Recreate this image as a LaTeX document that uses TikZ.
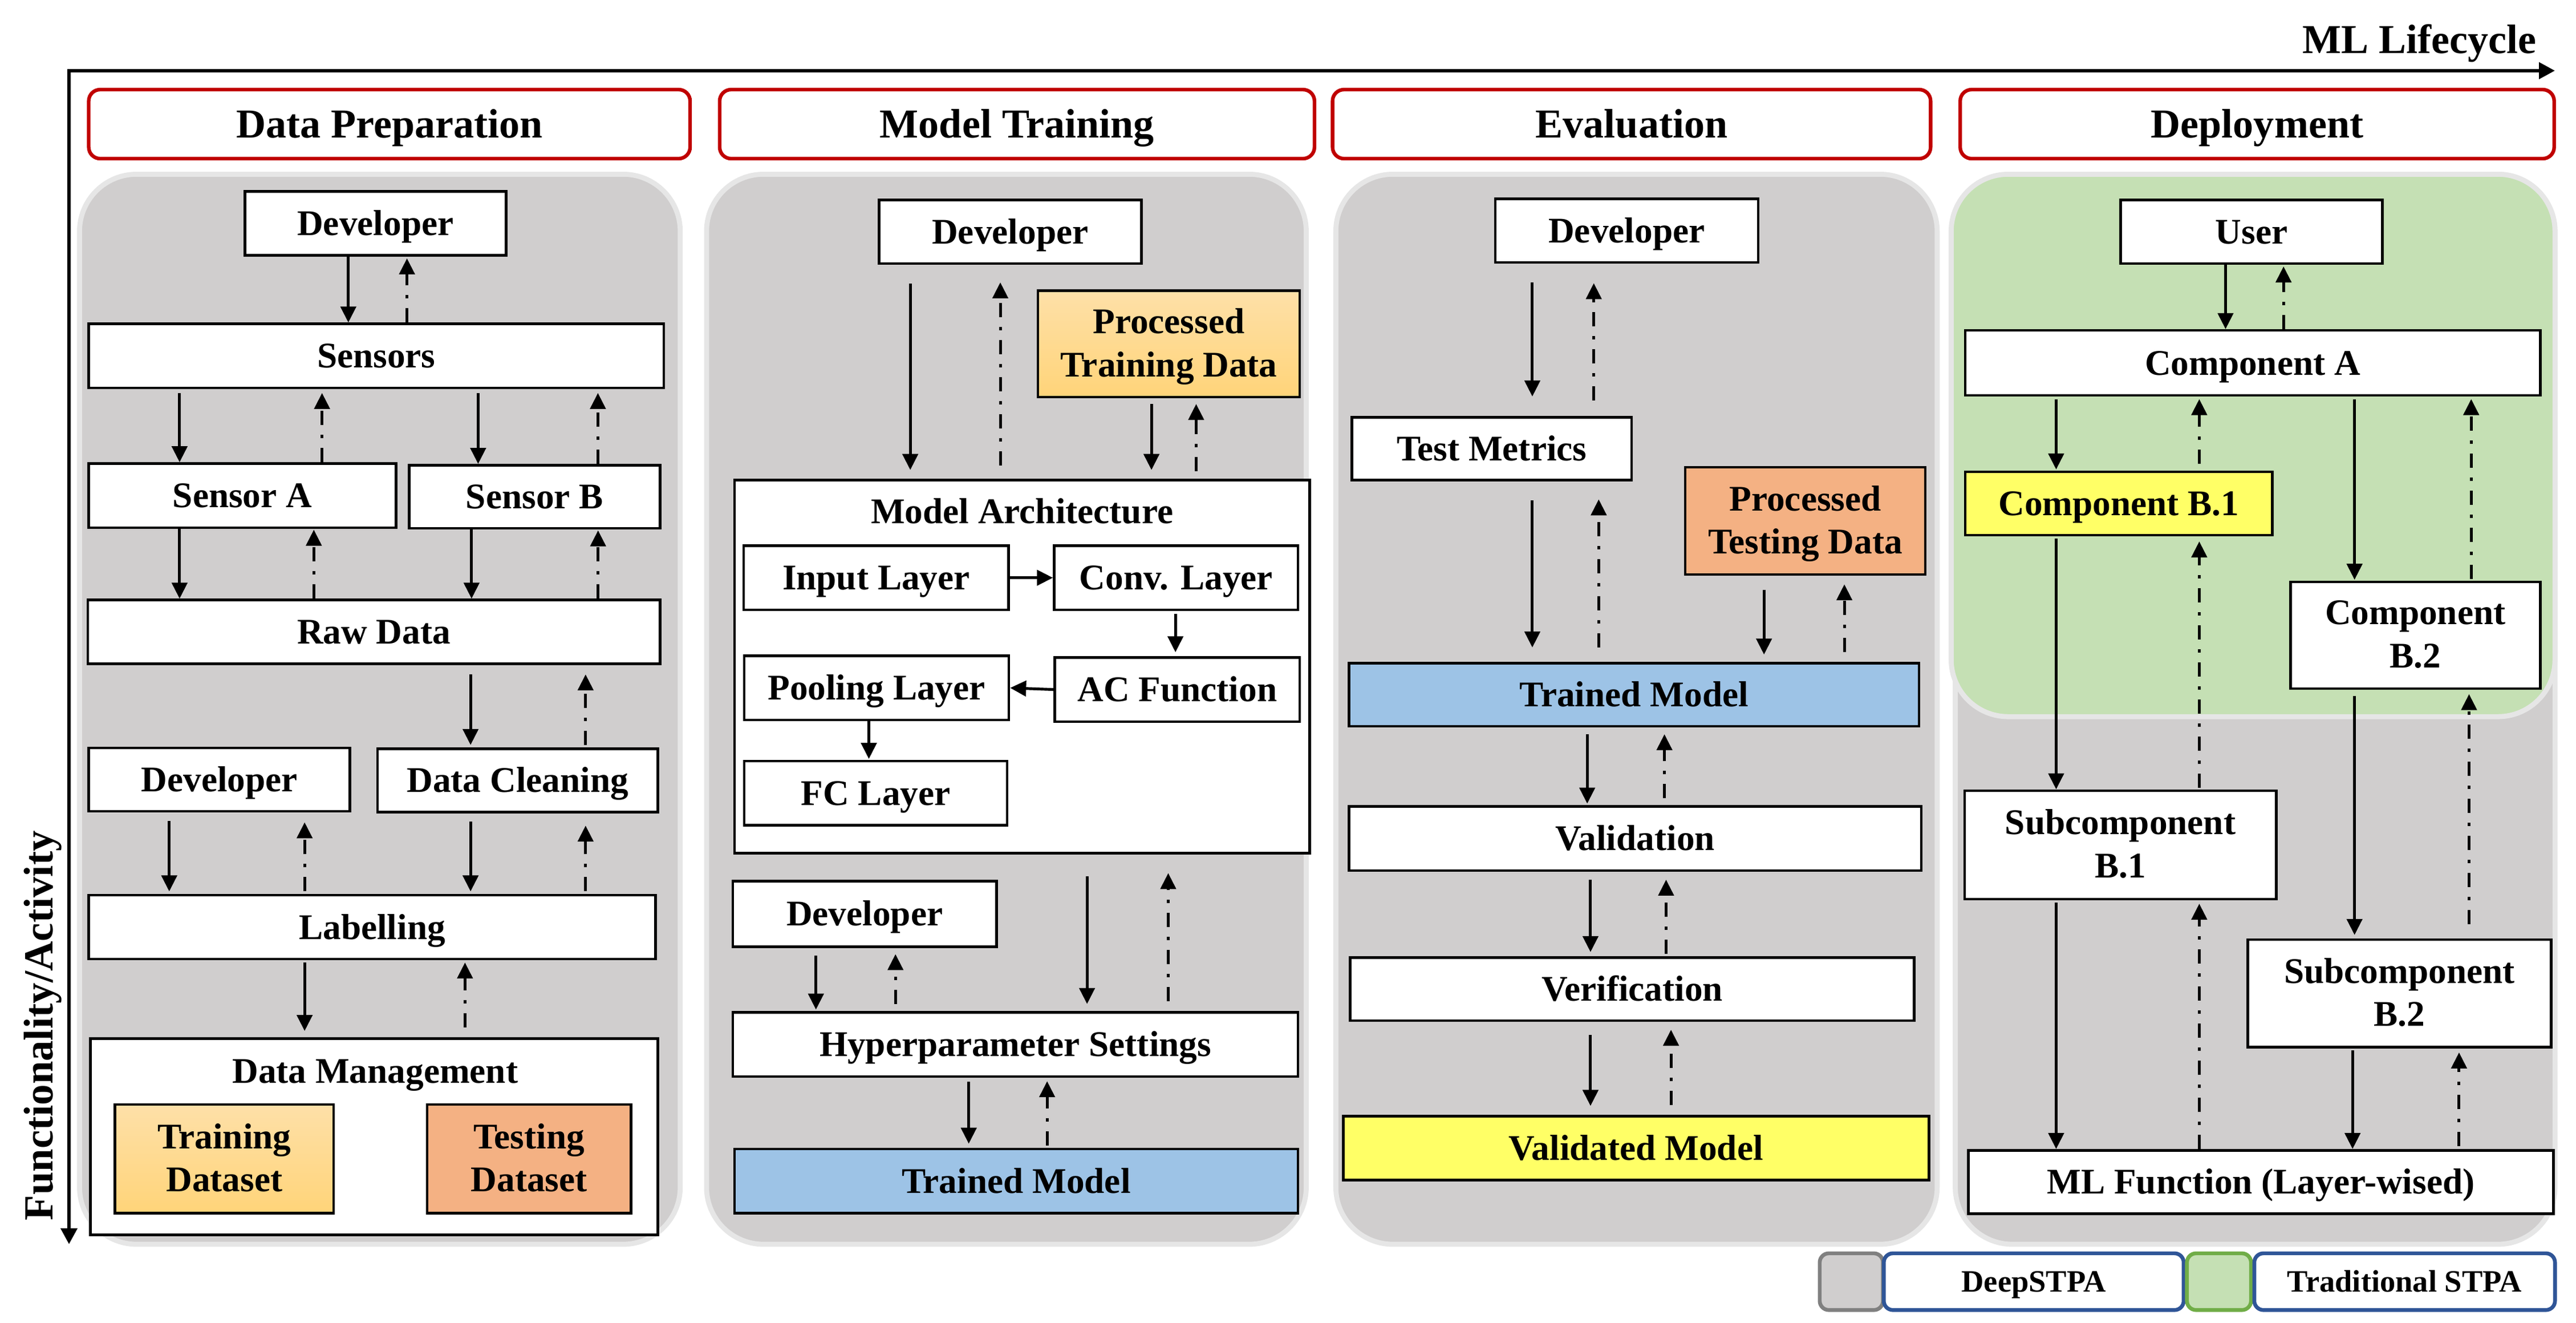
\documentclass[tikz,border=0pt]{standalone}
\usepackage{fontspec}
\setmainfont{Liberation Serif}
\usetikzlibrary{arrows.meta}

\definecolor{panelgray}{HTML}{D0CECE}
\definecolor{panelrim}{HTML}{E6E6E6}
\definecolor{greenfill}{HTML}{C5E0B4}
\definecolor{hdrred}{HTML}{C00000}
\definecolor{trainTop}{HTML}{FEE0A8}
\definecolor{trainBot}{HTML}{FFD479}
\definecolor{testfill}{HTML}{F4B183}
\definecolor{bluefill}{HTML}{9DC3E6}
\definecolor{yellowfill}{HTML}{FFFF66}
\definecolor{legblue}{HTML}{2F5597}
\definecolor{leggray}{HTML}{808080}
\definecolor{leggreen}{HTML}{70AD47}

\newcommand\pxu{0.2881mm}
% generic box: style, name, x1, y1, x2, y2, text
\newcommand\rbx[7]{\node[#1, minimum width={(#5-#3)*\pxu}, minimum height={(#6-#4)*\pxu}] (#2) at ({(#3+#5)/2},{(#4+#6)/2}) {#7};}
\newcommand\bx[7][sl]{\rbx{box,#1}{#2}{#3}{#4}{#5}{#6}{#7}}
% solid down connector: upper lower x startgap endgap
\newcommand\dn[5]{\draw[solidarr, shorten <=#4*\pxu, shorten >=#5*\pxu] (#1.south -| #3,0) -- (#2.north -| #3,0);}
% dash-dot up connector: upper lower x startgap endgap
\newcommand\upc[5]{\draw[dasharr, shorten <=#4*\pxu, shorten >=#5*\pxu] (#2.north -| #3,0) -- (#1.south -| #3,0);}

\begin{document}
\begin{tikzpicture}[x=0.2881mm,y=-0.2881mm,
  lbl/.style={font=\bfseries\fontsize{18}{21.5}\selectfont, align=center},
  box/.style={draw=black, line width=1.3pt, fill=white, inner sep=0pt, lbl},
  sl/.style={text height=11.9pt, text depth=0pt},
  ml/.style={text depth=1.2pt},
  hdr/.style={draw=hdrred, line width=1.8pt, fill=white, rounded corners=2mm, inner sep=0pt,
    font=\bfseries\fontsize{20.5}{24}\selectfont, text height=13.5pt, text depth=0pt},
  panel/.style={fill=panelgray, draw=panelrim, line width=2.5pt, rounded corners=10mm},
  solidarr/.style={-{Triangle[length=2.8mm,width=2.7mm]}, line width=1.4pt},
  dasharr/.style={-{Triangle[length=2.8mm,width=2.7mm]}, line width=1.4pt,
    dash pattern=on 2.5mm off 1.7mm on 0.6mm off 1.7mm},
  hconn/.style={-{Triangle[length=2.8mm,width=2.7mm]}, line width=1.4pt},
  axis/.style={{Triangle[length=2.8mm,width=2.8mm]}-{Triangle[length=2.8mm,width=2.8mm]}, line width=1.9pt},
  legbox/.style={line width=1.9pt, rounded corners=1.6mm, inner sep=0pt,
    font=\bfseries\fontsize{15.5}{18}\selectfont, text height=10.2pt, text depth=0pt}
]
\useasboundingbox (0,0) rectangle (1567.8,804.6);

% ---------- axes ----------
\coordinate (axB) at (42,757);
\coordinate (axO) at (42,43);
\coordinate (axR) at (1555,43);
\draw[axis] (axB) -- (axO) -- (axR);
\node[anchor=base east, font=\bfseries\fontsize{20.5}{24}\selectfont] (mlc) at (1548,32.4) {ML Lifecycle};
\node[anchor=base, rotate=90, font=\bfseries\fontsize{20.7}{24}\selectfont] (fa) at (32,624) {Functionality/Activity};

% ---------- headers ----------
\rbx{hdr}{h1}{54}{54.5}{420}{96.5}{Data Preparation}
\rbx{hdr}{h2}{438}{54.5}{800}{96.5}{Model Training}
\rbx{hdr}{h3}{811}{54.5}{1175}{96.5}{Evaluation}
\rbx{hdr}{h4}{1193}{54.5}{1554.5}{96.5}{Deployment}

% ---------- panels ----------
\draw[panel] (48.4,106) rectangle (414,757);
\draw[panel] (430,106) rectangle (795,757);
\draw[panel] (813,106) rectangle (1179,757);
\draw[panel] (1190,106) rectangle (1555,757);
\draw[panel, fill=greenfill] (1187.5,106) rectangle (1555,436);

% ---------- column 1: Data Preparation ----------
\bx{dpDev}{149}{116.4}{308}{155.4}{Developer}
\bx{dpSens}{54}{197}{404}{236}{Sensors}
\bx{dpSA}{54}{282}{241}{321}{Sensor A}
\bx{dpSB}{249}{283}{401.7}{321.4}{Sensor B}
\bx{dpRaw}{53.4}{365}{401.7}{403.8}{Raw Data}
\bx{dpDevB}{54}{455}{213}{493.5}{Developer}
\bx{dpClean}{229.7}{455.5}{400.4}{494}{Data Cleaning}
\bx{dpLab}{54}{544.6}{399}{583.5}{Labelling}
\bx{dpMgmt}{55}{631.8}{400.4}{751.3}{}
\node[lbl, text height=11.9pt, text depth=0pt] (dpMgmtT) at (228.3,651.7) {Data Management};
\bx[ml, top color=trainTop, bottom color=trainBot]{dpTrain}{70}{672}{203}{738}{Training\\Dataset}
\bx[ml, fill=testfill]{dpTest}{260}{672}{384}{738}{Testing\\Dataset}

\dn{dpDev}{dpSens}{212}{0}{0}
\upc{dpDev}{dpSens}{247.7}{0}{1}
\dn{dpSens}{dpSA}{109.3}{2.5}{0}
\upc{dpSens}{dpSA}{196}{0}{2.3}
\dn{dpSens}{dpSB}{291}{2.5}{0}
\upc{dpSens}{dpSB}{363.9}{0}{2.3}
\dn{dpSA}{dpRaw}{109.3}{0}{0}
\upc{dpSA}{dpRaw}{191}{0}{0.5}
\dn{dpSB}{dpRaw}{287}{0}{0}
\upc{dpSB}{dpRaw}{364}{0}{0.5}
\dn{dpRaw}{dpClean}{286.4}{5.7}{1.5}
\upc{dpRaw}{dpClean}{356.4}{1.5}{5.7}
\dn{dpDevB}{dpLab}{103}{5}{1.5}
\upc{dpDevB}{dpLab}{185.4}{1.5}{6}
\dn{dpClean}{dpLab}{286.4}{5}{1.5}
\upc{dpClean}{dpLab}{356.4}{1.5}{7.5}
\dn{dpLab}{dpMgmt}{185.4}{1.3}{3.8}
\upc{dpLab}{dpMgmt}{283}{6}{1.3}

% ---------- column 2: Model Training ----------
\bx{mtDev}{535}{121.6}{694.6}{160.4}{Developer}
\bx[ml, top color=trainTop, bottom color=trainBot]{mtPTD}{631.7}{176.8}{791}{241.6}{Processed\\Training Data}
\bx{mtArch}{447}{292}{797}{519}{}
\node[lbl, text height=11.9pt, text depth=0pt] (mtArchT) at (622,311.3) {Model Architecture};
\bx{mtIn}{452.6}{332}{613.9}{371}{Input Layer}
\bx{mtConv}{641.6}{332}{790}{371}{Conv. Layer}
\bx{mtAC}{642}{400}{791}{439}{AC Function}
\bx{mtPool}{453}{399}{614}{438}{Pooling Layer}
\bx{mtFC}{453}{463}{613}{502}{FC Layer}
\bx{mtDevB}{446}{536}{606.5}{576}{Developer}
\bx{mtHyp}{446}{616}{790}{655}{Hyperparameter Settings}
\bx[sl, fill=bluefill]{mtTM}{447}{699}{790}{738}{Trained Model}

\dn{mtDev}{mtArch}{554}{11.4}{5.3}
\upc{mtDev}{mtArch}{608.8}{8}{10.6}
\dn{mtPTD}{mtArch}{700.8}{3.4}{5.3}
\upc{mtPTD}{mtArch}{728}{4.4}{3.4}
\draw[hconn] (mtIn.east) -- (mtConv.west);
\dn{mtConv}{mtAC}{715.4}{1.5}{2.4}
\draw[hconn] (mtAC.west) -- (mtPool.east);
\dn{mtPool}{mtFC}{528.8}{0}{0.5}
\dn{mtArch}{mtHyp}{661.6}{13.4}{4.4}
\upc{mtArch}{mtHyp}{711}{6}{11.4}
\dn{mtDevB}{mtHyp}{496.6}{4.7}{1}
\upc{mtDevB}{mtHyp}{545}{4.3}{3.7}
\dn{mtHyp}{mtTM}{589.6}{2.4}{2.4}
\upc{mtHyp}{mtTM}{637.3}{1.4}{2}

% ---------- column 3: Evaluation ----------
\bx{evDev}{910}{121}{1070}{159.6}{Developer}
\bx{evTM}{822.8}{253.8}{993}{292}{Test Metrics}
\bx[ml, fill=testfill]{evPTD}{1025.7}{284.3}{1171.8}{349.5}{Processed\\Testing Data}
\bx[sl, fill=bluefill]{evTr}{821}{403.4}{1168}{441.9}{Trained Model}
\bx{evVal}{821}{490.7}{1169.4}{529.6}{Validation}
\bx{evVer}{821.8}{582.5}{1165}{621}{Verification}
\bx[sl, fill=yellowfill]{evVM}{817.5}{679}{1174}{718}{Validated Model}

\dn{evDev}{evTM}{932.6}{11.4}{11.8}
\upc{evDev}{evTM}{970}{9.2}{11.9}
\dn{evTM}{evTr}{932.6}{11.7}{8.7}
\upc{evTM}{evTr}{973}{8.7}{11}
\dn{evPTD}{evTr}{1073.6}{8.5}{4.4}
\upc{evPTD}{evTr}{1122.5}{6}{5.2}
\dn{evTr}{evVal}{966}{4}{1}
\upc{evTr}{evVal}{1013}{4.2}{4}
\dn{evVal}{evVer}{968}{4.8}{2.5}
\upc{evVal}{evVer}{1014}{1.5}{4.8}
\dn{evVer}{evVM}{968}{7.8}{5.4}
\upc{evVer}{evVM}{1017}{5.8}{4.7}

% ---------- column 4: Deployment ----------
\bx{dUser}{1290.6}{121.6}{1450}{160.3}{User}
\bx{dA}{1196}{201}{1546}{240.6}{Component A}
\bx[sl, fill=yellowfill]{dB1}{1196}{287}{1383}{325.6}{Component B.1}
\bx[ml]{dB2}{1394}{354}{1546}{419}{Component\\B.2}
\bx[ml]{dSB1}{1195.7}{481}{1385.3}{547}{Subcomponent\\B.1}
\bx[ml]{dSB2}{1368}{571.6}{1552.7}{637}{Subcomponent\\B.2}
\bx{dML}{1198}{699.8}{1554}{738.4}{ML Function (Layer-wised)}

\dn{dUser}{dA}{1354.5}{0}{0}
\upc{dUser}{dA}{1389.8}{0}{1}
\dn{dA}{dB1}{1251.4}{1.4}{0.6}
\upc{dA}{dB1}{1338.5}{4}{1.4}
\dn{dA}{dB2}{1433}{1.4}{0.5}
\upc{dA}{dB2}{1504}{1}{1.4}
\dn{dB1}{dSB1}{1251.4}{1.4}{0}
\upc{dB1}{dSB1}{1338.5}{1}{3}
\dn{dB2}{dSB2}{1433}{3.6}{2}
\upc{dB2}{dSB2}{1502.7}{8.6}{2.5}
\dn{dSB1}{dML}{1251.4}{1.4}{0}
\upc{dSB1}{dML}{1338.5}{0}{2}
\dn{dSB2}{dML}{1431.8}{1.3}{0}
\upc{dSB2}{dML}{1496.6}{1.8}{2.5}

% ---------- legend ----------
\rbx{legbox, draw=leggray, fill=panelgray}{lgGray}{1107.5}{762.5}{1146}{797}{}
\rbx{legbox, draw=legblue, fill=white}{lgDeep}{1146.5}{762.5}{1329}{797}{DeepSTPA}
\rbx{legbox, draw=leggreen, fill=greenfill}{lgGreen}{1331}{762.5}{1370}{797}{}
\rbx{legbox, draw=legblue, fill=white}{lgTrad}{1372}{762.5}{1555}{797}{Traditional STPA}
\end{tikzpicture}
\end{document}
